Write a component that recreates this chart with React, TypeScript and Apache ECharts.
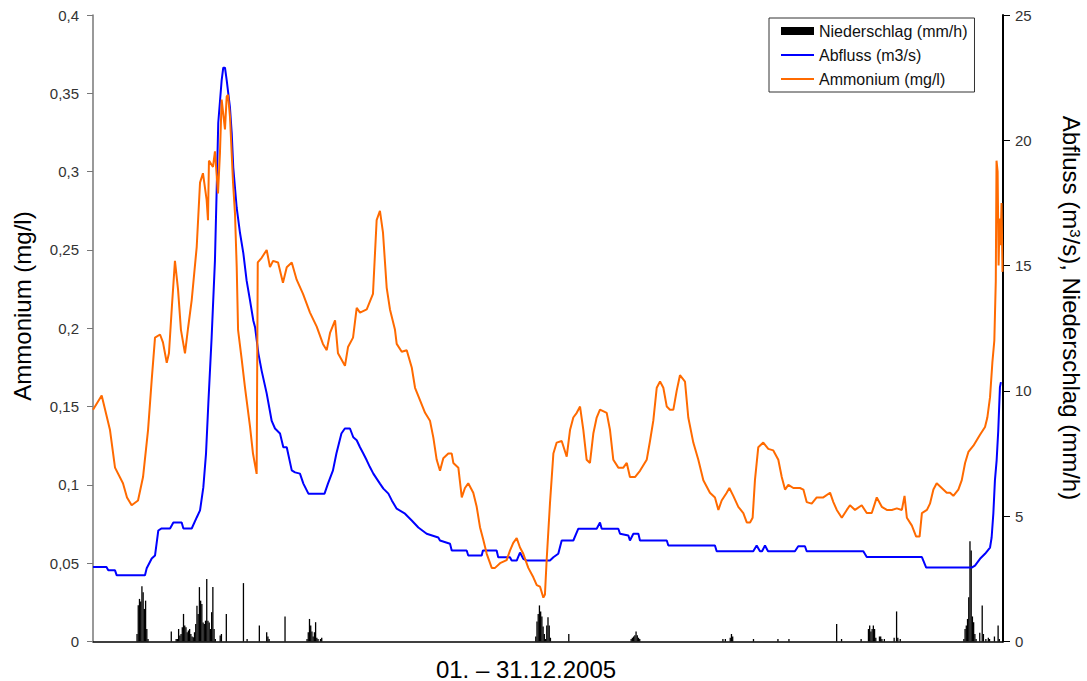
import React, { useEffect, useRef } from "react";
import * as echarts from "echarts";

const FONT = '"Liberation Sans", Arial, Helvetica, sans-serif';

// x in hours since 01.12.2005 00:00 (0..744)
const legendNames = ["Niederschlag (mm/h)", "Abfluss (m3/s)", "Ammonium (mg/l)"];
const leftTicks = { min: 0, max: 0.4, step: 0.05 };
const rightTicks = { min: 0, max: 25, step: 5 };

const niederschlag: [number, number][] = [
  [36, 0.3], [37, 1.45], [38, 1.7], [39, 1.6], [40, 2.2], [41, 1.97], [42, 1.3], [43, 1.63], [44, 0.5], [45, 0.1],
  [64, 0.4], [68, 0.1], [69, 0.1], [70, 0.5], [71, 0.24], [72, 0.3], [73, 0.57], [74, 1.1], [75, 0.64], [76, 0.57],
  [77, 0.37], [78, 0.44], [79, 0.5], [80, 0.3], [81, 0.2], [82, 0.17], [83, 0.37], [84, 0.7], [85, 1.43], [86, 1.1],
  [87, 2.17], [88, 1.63], [89, 1.5], [90, 0.76], [91, 0.7], [92, 0.83], [93, 2.49], [94, 0.83], [95, 0.76], [96, 0.5],
  [97, 1.17], [98, 2.17], [99, 0.5], [100, 0.1],
  [104, 0.24], [105, 0.3], [109, 1.1], [123, 2.33], [126, 0.1], [136, 0.64], [142, 0.37], [143, 0.2], [144, 0.1], [157, 1.0],
  [175, 0.1], [176, 0.37], [177, 0.9], [178, 0.64], [179, 0.4], [180, 0.2], [181, 0.37], [182, 0.77], [183, 0.15], [184, 0.1],
  [186, 0.1], [187, 0.15],
  [362, 0.2], [363, 0.8], [364, 1.1], [365, 1.44], [366, 1.2], [367, 1.0], [368, 0.6], [369, 0.3], [370, 0.1], [371, 0.64],
  [372, 0.97], [373, 0.64], [374, 0.15],
  [389, 0.3],
  [440, 0.1], [441, 0.15], [442, 0.2], [443, 0.25], [444, 0.4], [445, 0.25], [446, 0.15], [447, 0.1],
  [515, 0.1], [517, 0.1], [521, 0.15], [522, 0.3], [523, 0.2], [540, 0.1], [560, 0.1], [569, 0.1], [608, 0.7], [612, 0.1], [628, 0.1],
  [634, 0.5], [635, 0.64], [636, 0.4], [637, 0.5], [638, 0.64], [639, 0.5], [640, 0.15], [643, 0.2], [644, 0.2], [645, 0.1], [647, 0.1],
  [655, 0.15], [657, 1.2], [658, 0.15], [660, 0.1],
  [712, 0.1], [713, 0.5], [714, 0.64], [715, 0.9], [716, 1.77], [717, 4.0], [718, 3.63], [719, 1.0], [720, 0.77], [721, 0.3], [722, 0.1],
  [725, 0.35], [727, 1.44], [728, 0.3], [730, 0.1], [732, 0.15], [733, 0.1], [737, 0.2], [740, 0.64], [741, 0.1],
];

const abfluss: [number, number][] = [
  [0, 2.97], [11, 2.97], [12.5, 2.84], [18, 2.84], [19.4, 2.64], [42.5, 2.64], [43.9, 2.92], [48, 3.31], [50.7, 3.43],
  [53.4, 4.43], [56.1, 4.51], [63, 4.51], [65.7, 4.75], [72.5, 4.75], [73.9, 4.51], [80.7, 4.51], [84.8, 4.95], [87.5, 5.23],
  [90.2, 6.15], [92.4, 7.5], [94.3, 9.5], [97.0, 12.14], [99.7, 15.2], [101.1, 18.0], [102.4, 20.7], [105.2, 22.4], [106.5, 22.9],
  [107.9, 22.9], [109.3, 22.4], [112.0, 21.3], [113.4, 20.3], [114.7, 18.9], [117.5, 17.3], [120.2, 16.3], [122.9, 15.5],
  [125.6, 14.4], [128.4, 13.6], [131.1, 12.8], [132.5, 12.54], [135.2, 11.5], [137.9, 10.8], [142.0, 9.9], [146.1, 8.8],
  [148.8, 8.5], [152.9, 8.3], [155.6, 7.75], [158.4, 7.75], [162.5, 6.83], [165.2, 6.75], [169.2, 6.7], [172.0, 6.3],
  [176.1, 5.9], [189.3, 5.9], [192.1, 6.3], [196.2, 6.83], [199.0, 7.5], [203.1, 8.3], [205.9, 8.5], [210.1, 8.5],
  [212.8, 8.15], [215.6, 8.03], [218.3, 7.75], [221.0, 7.5], [223.8, 7.23], [226.5, 6.95], [229.2, 6.7], [231.9, 6.5],
  [234.6, 6.3], [237.4, 6.1], [241.5, 5.9], [244.3, 5.63], [248.3, 5.3], [255.1, 5.1], [260.6, 4.83], [266.0, 4.55],
  [272.8, 4.3], [282.3, 4.15], [283.7, 4.03], [291.9, 3.9], [293.3, 3.63], [305.5, 3.63], [306.8, 3.43], [317.8, 3.43],
  [318.8, 3.63], [330.0, 3.63], [331.3, 3.36], [340.9, 3.36], [342.3, 3.23], [346.4, 3.23], [349.1, 3.55], [351.8, 3.3],
  [354.6, 3.23], [373.6, 3.23], [376.4, 3.36], [380.4, 3.5], [383.2, 4.03], [392.7, 4.03], [396.8, 4.5], [411.8, 4.5],
  [414.5, 4.75], [415.9, 4.5], [429.5, 4.5], [430.9, 4.3], [437.7, 4.23], [439.0, 4.03], [441.8, 4.3], [445.9, 4.3],
  [447.2, 4.03], [469.1, 4.03], [470.4, 3.83], [508.5, 3.83], [509.9, 3.6], [539.8, 3.6], [542.6, 3.83], [545.3, 3.6],
  [547.0, 3.6], [549.4, 3.83], [551.9, 3.6], [573.9, 3.6], [576.6, 3.8], [582.1, 3.8], [583.5, 3.6], [629.8, 3.6],
  [632.6, 3.37], [677.7, 3.37], [681.2, 2.95], [718.4, 2.95], [721.1, 3.03], [725.2, 3.3], [729.3, 3.5], [733.4, 3.75],
  [734.7, 4.15], [736.1, 5.1], [737.4, 6.43], [738.8, 7.23], [740.1, 8.4], [741.5, 10.15], [742.3, 10.35],
];

const ammonium: [number, number][] = [
  [0, 0.148], [7.1, 0.157], [13.9, 0.135], [18.0, 0.111], [24.5, 0.101], [27.8, 0.092], [31.6, 0.087], [36.8, 0.09],
  [40.9, 0.105], [45.0, 0.135], [48.0, 0.167], [50.7, 0.194], [54.8, 0.196], [57.2, 0.191], [60.3, 0.178], [62.1, 0.184],
  [64.6, 0.215], [67.0, 0.243], [69.5, 0.225], [71.9, 0.199], [75.2, 0.184], [77.7, 0.2], [80.7, 0.218], [84.8, 0.252],
  [87.5, 0.293], [89.9, 0.299], [92.9, 0.282], [94.0, 0.269], [94.8, 0.307], [98.1, 0.303], [99.7, 0.313], [102.2, 0.286],
  [103.8, 0.312], [105.2, 0.346], [107.9, 0.327], [109.3, 0.348], [110.4, 0.349], [112.0, 0.335], [114.5, 0.293],
  [116.1, 0.273], [117.5, 0.239], [118.6, 0.199], [121.6, 0.18], [124.3, 0.162], [128.4, 0.137], [130.8, 0.12],
  [133.8, 0.107], [134.7, 0.242], [137.9, 0.245], [142.0, 0.25], [144.7, 0.239], [147.2, 0.243], [151.3, 0.242],
  [155.3, 0.229], [158.4, 0.239], [162.5, 0.242], [166.5, 0.231], [171.7, 0.222], [177.4, 0.21], [182.9, 0.201],
  [188.0, 0.19], [191.1, 0.186], [193.8, 0.197], [197.9, 0.205], [200.3, 0.184], [206.0, 0.176], [208.5, 0.188],
  [212.6, 0.194], [215.6, 0.213], [218.3, 0.21], [223.8, 0.212], [228.9, 0.222], [231.9, 0.269], [234.6, 0.275],
  [237.1, 0.261], [240.1, 0.226], [242.8, 0.212], [246.9, 0.199], [248.3, 0.19], [252.4, 0.185], [256.5, 0.186],
  [260.6, 0.175], [263.3, 0.162], [267.4, 0.154], [271.5, 0.146], [275.5, 0.141], [278.3, 0.13], [281.0, 0.116],
  [283.7, 0.109], [286.4, 0.117], [290.5, 0.12], [293.3, 0.12], [294.6, 0.114], [298.7, 0.111], [301.5, 0.092],
  [304.1, 0.098], [306.8, 0.101], [310.9, 0.095], [313.7, 0.086], [316.4, 0.073], [319.1, 0.065], [321.9, 0.056],
  [326.0, 0.047], [328.7, 0.047], [332.8, 0.05], [338.2, 0.052], [340.9, 0.058], [343.6, 0.063], [346.4, 0.066],
  [349.1, 0.06], [351.8, 0.056], [355.9, 0.047], [360.0, 0.041], [362.8, 0.036], [365.5, 0.035], [368.2, 0.028],
  [369.5, 0.03], [370.9, 0.052], [373.6, 0.088], [376.4, 0.12], [379.1, 0.127], [383.2, 0.128], [387.3, 0.118],
  [390.0, 0.135], [392.7, 0.143], [395.5, 0.146], [398.2, 0.15], [400.9, 0.135], [403.6, 0.116], [406.3, 0.114],
  [409.1, 0.133], [411.8, 0.143], [414.5, 0.148], [420.0, 0.146], [422.7, 0.135], [425.4, 0.116], [429.5, 0.111],
  [433.6, 0.111], [436.4, 0.114], [439.0, 0.105], [443.1, 0.105], [447.2, 0.109], [452.7, 0.116], [455.4, 0.128],
  [458.1, 0.141], [460.9, 0.162], [463.6, 0.166], [466.3, 0.162], [469.1, 0.15], [471.7, 0.148], [474.5, 0.148],
  [477.2, 0.16], [479.9, 0.17], [484.0, 0.166], [486.7, 0.143], [490.8, 0.127], [494.9, 0.116], [499.0, 0.103],
  [504.4, 0.095], [508.5, 0.092], [511.3, 0.084], [514.0, 0.09], [518.1, 0.095], [520.3, 0.098], [523.5, 0.093],
  [527.6, 0.086], [531.7, 0.082], [534.5, 0.076], [537.2, 0.076], [539.3, 0.079], [541.2, 0.103], [543.9, 0.124],
  [548.0, 0.127], [552.1, 0.123], [556.2, 0.122], [560.3, 0.116], [563.1, 0.105], [565.8, 0.097], [568.5, 0.1],
  [572.6, 0.098], [578.0, 0.098], [580.8, 0.097], [583.5, 0.089], [587.6, 0.088], [591.7, 0.092], [597.1, 0.092],
  [602.6, 0.095], [605.3, 0.089], [608.1, 0.084], [612.2, 0.079], [616.3, 0.084], [618.9, 0.087], [623.0, 0.084],
  [628.5, 0.087], [632.6, 0.082], [636.7, 0.082], [640.8, 0.092], [644.9, 0.086], [649.0, 0.084], [653.1, 0.084],
  [657.2, 0.085], [661.3, 0.084], [663.5, 0.093], [665.4, 0.079], [669.5, 0.074], [673.0, 0.067], [675.8, 0.067],
  [677.7, 0.082], [681.8, 0.084], [684.3, 0.088], [687.1, 0.097], [689.8, 0.101], [693.9, 0.098], [698.0, 0.095],
  [700.7, 0.095], [703.4, 0.093], [707.5, 0.097], [710.3, 0.103], [713.0, 0.114], [715.7, 0.121], [719.8, 0.125],
  [725.2, 0.132], [729.3, 0.137], [731.2, 0.143], [733.4, 0.156], [735.3, 0.178], [736.9, 0.192], [738.1, 0.23],
  [738.7, 0.307], [739.6, 0.3], [740.4, 0.24], [741.2, 0.27], [742.0, 0.253], [742.8, 0.28], [743.6, 0.236],
];

export default function App() {
  const ref = useRef<HTMLDivElement>(null);
  useEffect(() => {
    if (!ref.current) return;
    const chart = echarts.init(ref.current, null, { renderer: "svg" });
    const fmt = (v: number) => Number(v.toFixed(2)).toString().replace(".", ",");
    chart.setOption({
      animation: false,
      backgroundColor: "#ffffff",
      textStyle: { fontFamily: FONT },
      grid: { left: 93, right: 84, top: 15, bottom: 39.5 },
      legend: {
        orient: "vertical",
        left: 769,
        top: 18,
        padding: [5, 7, 5, 11],
        itemGap: 8,
        itemWidth: 33,
        itemHeight: 8,
        borderColor: "#333",
        borderWidth: 1,
        backgroundColor: "#fff",
        selectedMode: false,
        textStyle: { fontSize: 16, color: "#111", fontFamily: FONT },
        data: [
          { name: legendNames[0], icon: "rect" },
          { name: legendNames[1], itemStyle: { opacity: 0 } },
          { name: legendNames[2], itemStyle: { opacity: 0 } },
        ],
      },
      xAxis: {
        type: "value",
        min: 0,
        max: 744,
        axisLine: { show: true, onZero: false, lineStyle: { color: "#000", width: 1.5 } },
        axisTick: { show: false },
        axisLabel: { show: false },
        splitLine: { show: false },
      },
      yAxis: [
        {
          type: "value",
          position: "left",
          min: leftTicks.min,
          max: leftTicks.max,
          interval: leftTicks.step,
          axisLine: { show: true, lineStyle: { color: "#777", width: 1.5 } },
          axisTick: { show: true, length: 6, lineStyle: { color: "#777", width: 1 } },
          axisLabel: { margin: 14, color: "#333", fontSize: 15, fontFamily: FONT, formatter: fmt },
          splitLine: { show: false },
        },
        {
          type: "value",
          position: "right",
          min: rightTicks.min,
          max: rightTicks.max,
          interval: rightTicks.step,
          axisLine: { show: true, lineStyle: { color: "#000", width: 2 } },
          axisTick: { show: true, length: 7, lineStyle: { color: "#000", width: 1 } },
          axisLabel: { margin: 12, color: "#333", fontSize: 15, fontFamily: FONT },
          splitLine: { show: false },
        },
      ],
      series: [
        {
          name: legendNames[0],
          type: "bar",
          yAxisIndex: 1,
          data: niederschlag,
          barWidth: 1.3,
          itemStyle: { color: "#000" },
        },
        {
          name: legendNames[1],
          type: "line",
          yAxisIndex: 1,
          data: abfluss,
          symbol: "none",
          showSymbol: false,
          lineStyle: { color: "#0000ff", width: 2 },
          itemStyle: { color: "#0000ff" },
        },
        {
          name: legendNames[2],
          type: "line",
          yAxisIndex: 0,
          data: ammonium,
          symbol: "none",
          showSymbol: false,
          lineStyle: { color: "#ff6a00", width: 2 },
          itemStyle: { color: "#ff6a00" },
        },
      ],
      graphic: [
        {
          type: "text",
          x: 22,
          y: 306,
          rotation: Math.PI / 2,
          style: {
            text: "Ammonium (mg/l)",
            fontSize: 24,
            fontFamily: FONT,
            fill: "#000",
            align: "center",
            verticalAlign: "middle",
          },
        },
        {
          type: "text",
          x: 1071,
          y: 308,
          rotation: -Math.PI / 2,
          style: {
            text: "Abfluss (m{sup|3}/s), Niederschlag (mm/h)",
            fontSize: 24,
            fontFamily: FONT,
            fill: "#000",
            align: "center",
            verticalAlign: "middle",
            rich: {
              sup: { fontSize: 15, fontFamily: FONT, fill: "#000", verticalAlign: "top" },
            },
          },
        },
        {
          type: "text",
          x: 526,
          y: 669,
          style: {
            text: "01. – 31.12.2005",
            fontSize: 24,
            fontFamily: FONT,
            fill: "#000",
            align: "center",
            verticalAlign: "middle",
          },
        },
      ],
    });
    return () => chart.dispose();
  }, []);
  return (
    <div
      ref={ref}
      style={{ position: "absolute", left: 0, top: 0, width: 1087, height: 681 }}
    />
  );
}
